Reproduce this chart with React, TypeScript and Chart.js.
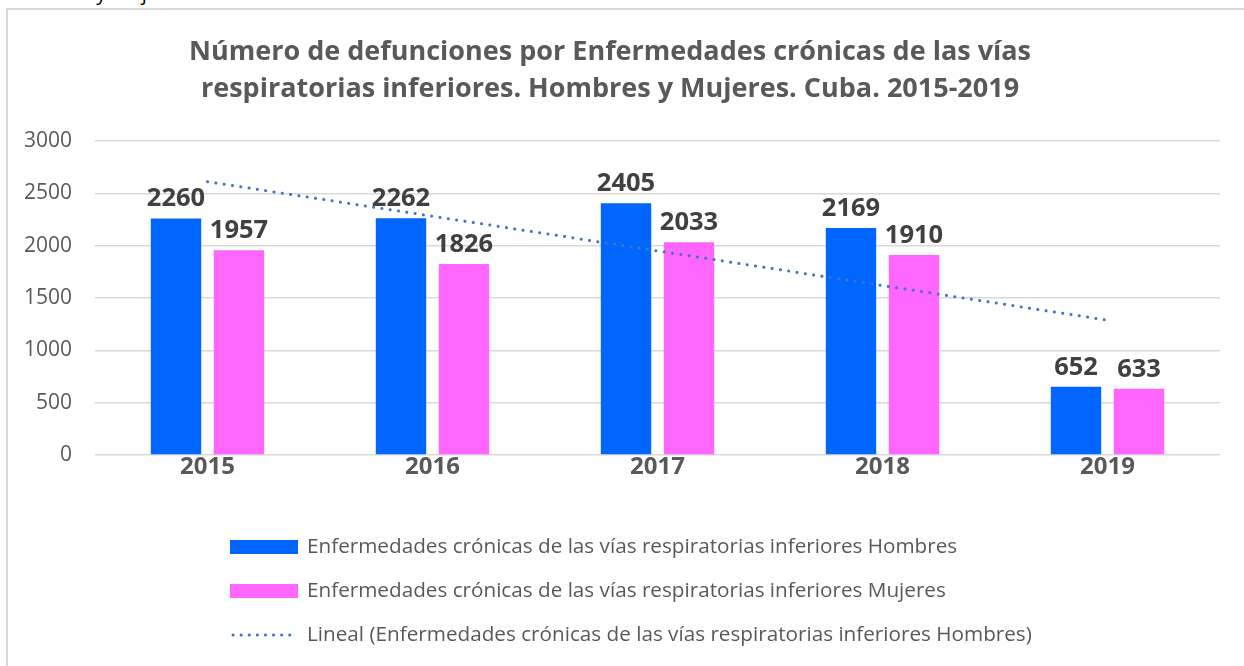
import React, { useEffect, useRef } from "react";
import { Chart, registerables } from "chart.js";

Chart.register(...registerables);

const CATEGORIES = ["2015", "2016", "2017", "2018", "2019"];
const HOMBRES = [2260, 2262, 2405, 2169, 652];
const MUJERES = [1957, 1826, 2033, 1910, 633];
const TREND_HOMBRES = [2611, 2281, 1950, 1619, 1288];
const LABEL_H = "Enfermedades crónicas de las vías respiratorias inferiores Hombres";
const LABEL_M = "Enfermedades crónicas de las vías respiratorias inferiores Mujeres";
const LABEL_T = "Lineal (Enfermedades crónicas de las vías respiratorias inferiores Hombres)";
const TITLE_LINES = [
  "Número de defunciones por Enfermedades crónicas de las vías",
  "respiratorias inferiores. Hombres y Mujeres. Cuba. 2015-2019",
];
const CAPTION = "en Hombres y Mujeres. Cuba. 2015-2019.";
const Y_MIN = 0;
const Y_MAX = 3000;
const Y_STEP = 500;

const FONT = "'Open Sans', 'Noto Sans', sans-serif";
const BLUE = "#0066FF";
const PINK = "#FF66FF";
const TREND_COLOR = "#4472C4";
const TEXT_GRAY = "#595959";
const LABEL_DARK = "#404040";

const titlePlugin = {
  id: "customTitle",
  afterDraw(chart: any) {
    const ctx = chart.ctx;
    ctx.save();
    ctx.fillStyle = TEXT_GRAY;
    ctx.font = `bold 27px ${FONT}`;
    ctx.textAlign = "center";
    ctx.textBaseline = "middle";
    TITLE_LINES.forEach((line, i) => {
      ctx.fillText(line, 602, 42 + i * 37);
    });
    ctx.restore();
  },
};

const dataLabelPlugin = {
  id: "barLabels",
  afterDatasetsDraw(chart: any) {
    const ctx = chart.ctx;
    ctx.save();
    ctx.fillStyle = LABEL_DARK;
    ctx.font = `bold 25.5px ${FONT}`;
    ctx.textAlign = "center";
    ctx.textBaseline = "alphabetic";
    chart.data.datasets.forEach((ds: any, di: number) => {
      if (ds.type !== "bar") return;
      const meta = chart.getDatasetMeta(di);
      meta.data.forEach((el: any, i: number) => {
        ctx.fillText(String(ds.data[i]), el.x, el.y - 12);
      });
    });
    ctx.restore();
  },
};

const legendPlugin = {
  id: "customLegend",
  afterDraw(chart: any) {
    const ctx = chart.ctx;
    const order = [1, 2, 0];
    const rowsY = [537, 581, 625];
    ctx.save();
    ctx.font = `20.7px ${FONT}`;
    ctx.textBaseline = "middle";
    ctx.textAlign = "left";
    order.forEach((di, r) => {
      const ds = chart.data.datasets[di];
      const y = rowsY[r];
      if (ds.type === "bar") {
        ctx.fillStyle = ds.backgroundColor;
        ctx.fillRect(222, y - 7, 68, 14);
      } else {
        ctx.strokeStyle = ds.borderColor;
        ctx.lineWidth = 3;
        ctx.lineCap = "round";
        ctx.setLineDash([0.1, 8]);
        ctx.beginPath();
        ctx.moveTo(225, y);
        ctx.lineTo(288, y);
        ctx.stroke();
        ctx.setLineDash([]);
      }
      ctx.fillStyle = TEXT_GRAY;
      ctx.fillText(ds.label, 299, y);
    });
    ctx.restore();
  },
};

export default function App() {
  const canvasRef = useRef<HTMLCanvasElement | null>(null);

  useEffect(() => {
    if (!canvasRef.current) return;
    const chart = new Chart(canvasRef.current, {
      type: "bar",
      data: {
        labels: CATEGORIES,
        datasets: [
          {
            type: "line",
            label: LABEL_T,
            data: TREND_HOMBRES,
            borderColor: TREND_COLOR,
            borderWidth: 3,
            borderDash: [0.1, 8.3],
            borderCapStyle: "round",
            pointRadius: 0,
            fill: false,
            tension: 0,
            order: 0,
          } as any,
          {
            type: "bar",
            label: LABEL_H,
            data: HOMBRES,
            backgroundColor: BLUE,
            categoryPercentage: 0.56,
            barPercentage: 0.8,
            order: 1,
          } as any,
          {
            type: "bar",
            label: LABEL_M,
            data: MUJERES,
            backgroundColor: PINK,
            categoryPercentage: 0.56,
            barPercentage: 0.8,
            order: 1,
          } as any,
        ],
      },
      options: {
        animation: false,
        responsive: false,
        maintainAspectRatio: false,
        layout: { padding: { top: 131, right: 24, bottom: 171, left: 0 } },
        plugins: {
          legend: { display: false },
          title: { display: false },
          tooltip: { enabled: false },
        },
        scales: {
          x: {
            grid: { display: false, drawTicks: false },
            border: { display: false },
            ticks: {
              color: TEXT_GRAY,
              font: { family: FONT, size: 24, weight: "bold", lineHeight: 1 },
              padding: 0,
            },
            afterFit: (s: any) => {
              s.height = 40;
            },
          },
          y: {
            min: Y_MIN,
            max: Y_MAX,
            grid: { color: "#d9d9d9", lineWidth: 1.5, drawTicks: false },
            border: { display: false },
            ticks: {
              stepSize: Y_STEP,
              color: TEXT_GRAY,
              font: { family: FONT, size: 21 },
              padding: 23,
              callback: (v: any) => String(v),
            },
            afterFit: (s: any) => {
              s.width = 87;
            },
          },
        },
      },
      plugins: [titlePlugin, dataLabelPlugin, legendPlugin],
    });
    return () => chart.destroy();
  }, []);

  return (
    <div
      style={{
        position: "absolute",
        left: 0,
        top: 0,
        width: 1244,
        height: 666,
        overflow: "hidden",
        background: "#ffffff",
      }}
    >
      <div
        style={{
          position: "absolute",
          left: -24,
          top: -17,
          fontFamily: FONT,
          fontSize: 20,
          lineHeight: "20px",
          color: "#000",
          whiteSpace: "nowrap",
        }}
      >
        {CAPTION}
      </div>
      <div
        style={{
          position: "absolute",
          left: 6,
          top: 8,
          width: 1300,
          height: 700,
          border: "2px solid #d9d9d9",
          boxSizing: "border-box",
          background: "#ffffff",
        }}
      >
        <canvas
          ref={canvasRef}
          width={1236}
          height={656}
          style={{ display: "block", width: 1236, height: 656 }}
        />
      </div>
    </div>
  );
}
